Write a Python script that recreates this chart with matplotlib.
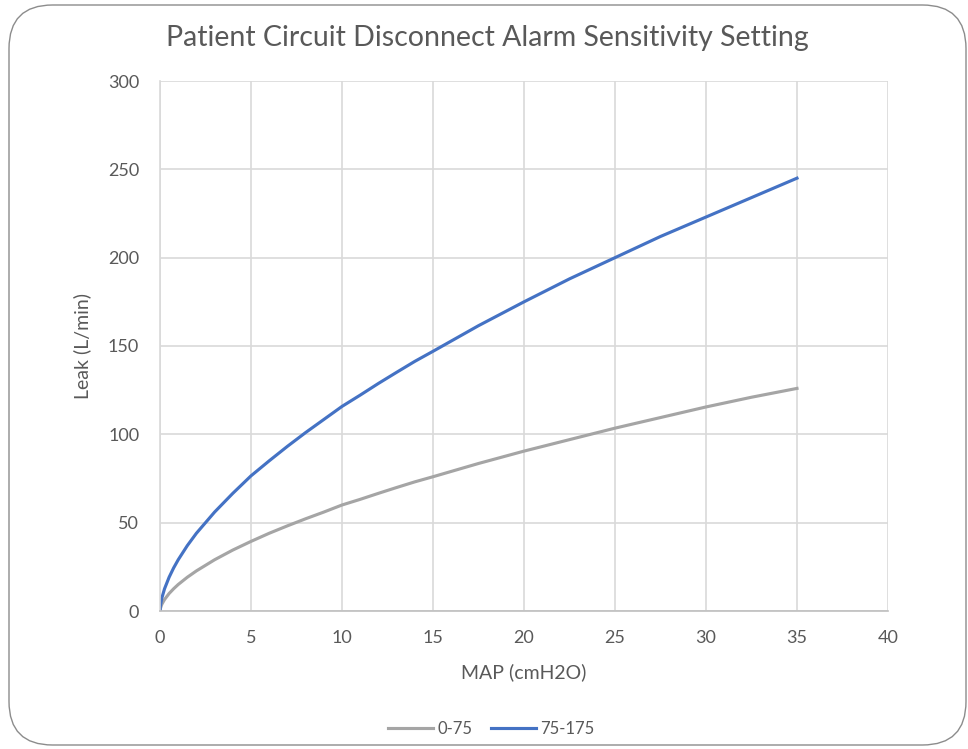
import matplotlib
matplotlib.use("Agg")
import matplotlib.pyplot as plt
from matplotlib.patches import FancyBboxPatch

plt.rcParams['font.family'] = ['Lato', 'DejaVu Sans']

# values
map_x = [0, 0.02, 0.1, 0.25, 0.5, 0.75, 1, 1.5, 2, 3, 4, 5, 6, 7, 8, 9, 10,
         11, 12, 13, 14, 15, 17.5, 20, 22.5, 25, 27.5, 30, 32.5, 35]
leak_0_75 = [0, 1.4, 3.8, 6.5, 9.9, 12.6, 15, 19.1, 22.7, 29, 34.5, 39.4,
             44, 48.2, 52.2, 56, 60, 63.2, 66.6, 69.9, 73.1, 76, 83.5, 90.5,
             97, 103.5, 109.5, 115.5, 121, 126]
leak_75_175 = [0, 2.8, 7.3, 12.6, 19.1, 24.4, 29, 37, 44, 56, 66.6, 76.5,
               85, 93.2, 101, 108.4, 115.8, 122.2, 128.8, 135.1, 141.3, 147,
               161.5, 175, 188, 200, 212, 223, 234, 245]

text_col = '#595959'
grid_col = '#d9d9d9'

fig = plt.figure(figsize=(9.68, 7.49), dpi=100)
ax = fig.add_axes([160/968, 138/749, 728/968, 530/749])

# rounded border around the chart
border = FancyBboxPatch((9/968, 4/749), 957/968, 740/749,
                        boxstyle="round,pad=0,rounding_size=0.045",
                        transform=fig.transFigure, facecolor='white',
                        edgecolor='#8c8c8c', linewidth=1.0, zorder=-1,
                        mutation_aspect=968/749)
fig.patches.append(border)

ax.plot(map_x, leak_0_75, color='#a5a5a5', linewidth=2.25, label='0-75')
ax.plot(map_x, leak_75_175, color='#4472c4', linewidth=2.25, label='75-175')

ax.set_xlim(0, 40)
ax.set_ylim(0, 300)
ax.set_xticks(range(0, 41, 5))
ax.set_yticks(range(0, 301, 50))
ax.grid(True, color=grid_col, linewidth=1.2)
ax.set_axisbelow(True)
for s in ['top', 'right']:
    ax.spines[s].set_visible(False)
ax.spines['left'].set_color(grid_col)
ax.spines['bottom'].set_color('#bfbfbf')
ax.spines['left'].set_linewidth(1.2)
ax.spines['bottom'].set_linewidth(1.2)
ax.tick_params(length=0, labelsize=13, labelcolor=text_col)
ax.tick_params(axis='x', pad=14)
ax.tick_params(axis='y', pad=15)

ax.set_xlabel('MAP (cmH2O)', fontsize=14, color=text_col, labelpad=12)
ax.set_ylabel('Leak (L/min)', fontsize=14, color=text_col, labelpad=12)
fig.text(0.504, 0.949, 'Patient Circuit Disconnect Alarm Sensitivity Setting',
         ha='center', va='center', fontsize=20.5, color=text_col)

ax.legend(loc='center', bbox_to_anchor=(0.455, -0.222), ncol=2, frameon=False,
          fontsize=12, labelcolor=text_col, handlelength=2.7, handletextpad=0.25,
          columnspacing=1.1)

fig.savefig('out.png', dpi=100)
